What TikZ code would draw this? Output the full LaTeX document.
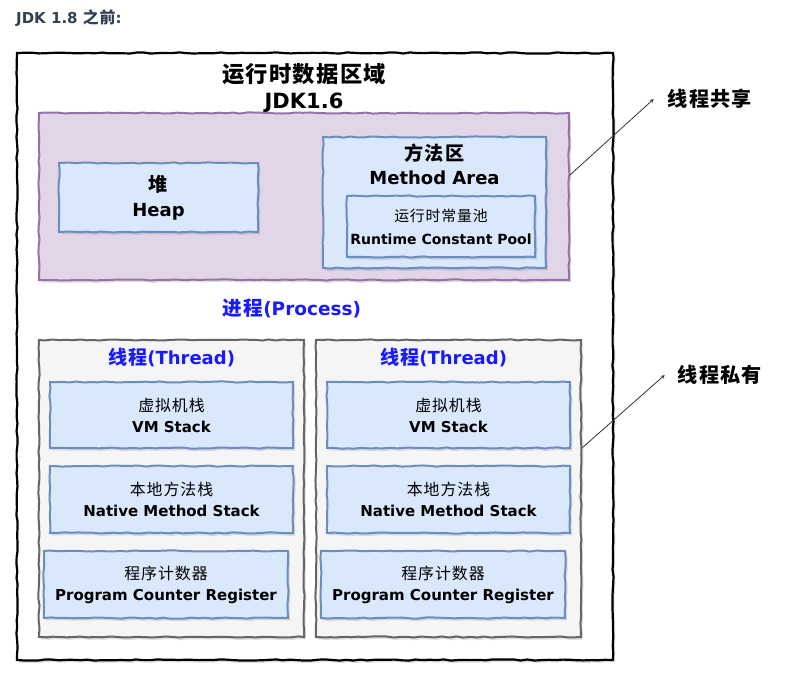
\documentclass[tikz,border=0pt]{standalone}
\usepackage{fontspec}
\setmainfont{DejaVu Sans}
\newfontfamily\cjk{Noto Sans CJK SC}[Scale=1.06, LetterSpace=6]
\usetikzlibrary{positioning,decorations.pathmorphing,shadows,arrows.meta}
\newcommand{\zh}[1]{{\cjk #1}}
\definecolor{sharedfill}{HTML}{E1D5E7}
\definecolor{sharedline}{HTML}{9673A6}
\definecolor{blockfill}{HTML}{DAE8FC}
\definecolor{blockline}{HTML}{6C8EBF}
\definecolor{threadfill}{HTML}{F5F5F5}
\definecolor{threadline}{HTML}{666666}
\definecolor{procblue}{HTML}{1A1AFF}
\definecolor{headgray}{HTML}{333F4F}
\tikzstyle{sketch} = [decorate, decoration={random steps, segment length=7pt, amplitude=0.6pt}]
\tikzstyle{boxshadow} = [drop shadow={shadow xshift=2pt, shadow yshift=-2.5pt, opacity=0.25, fill=black!50}]
\tikzstyle{outerbox} = [sketch, boxshadow, draw=black, line width=2.2pt, fill=white, inner sep=0pt]
\tikzstyle{sharedbox} = [sketch, boxshadow, draw=sharedline, line width=2pt, fill=sharedfill, inner sep=0pt]
\tikzstyle{memblock} = [sketch, boxshadow, draw=blockline, line width=2pt, fill=blockfill, inner sep=0pt, align=center]
\tikzstyle{threadbox} = [sketch, boxshadow, draw=threadline, line width=2pt, fill=threadfill, inner sep=0pt]
\tikzstyle{bigtext} = [align=center, inner sep=0pt, font=\fontsize{18}{25}\selectfont\bfseries]
\tikzstyle{smalltext} = [font=\fontsize{15}{21}\selectfont\bfseries]
\tikzstyle{bluetext} = [inner sep=0pt, text=procblue, font=\fontsize{18}{22}\selectfont\bfseries]
\tikzstyle{sidelabel} = [inner sep=0pt, font=\fontsize{19}{22}\selectfont\bfseries]
\tikzstyle{pointer} = [->, draw=black!80, line width=0.8pt]

\begin{document}
\begin{tikzpicture}[x=1pt, y=-1pt, >=stealth]
    \useasboundingbox (0,0) rectangle (788,677);
    \node [anchor=west, inner sep=0pt, text=headgray, font=\fontsize{15}{17}\selectfont\bfseries] (header) at (16,18) {JDK 1.8 \zh{之前}:};

    % runtime data area
    \node [outerbox, minimum width=596pt, minimum height=607pt] (runtime) at (315,356.5) {};
    \node [bigtext, font=\fontsize{21}{26}\selectfont\bfseries] (title) at (304,88) {\zh{运行时数据区域}\\JDK1.6};

    % shared between threads
    \node [sharedbox, minimum width=530pt, minimum height=167pt] (shared) at (304,196.5) {};
    \node [memblock, bigtext, minimum width=199pt, minimum height=69pt] (heap) at (158.5,197.5) {\zh{堆}\\Heap};
    \node [memblock, minimum width=223pt, minimum height=131pt] (method) at (434.5,202.5) {};
    \node [bigtext, font=\fontsize{18}{24}\selectfont\bfseries] (methodtitle) at ([yshift=-28pt]method.north) {\zh{方法区}\\Method Area};
    \node [memblock, minimum width=188pt, minimum height=61pt, font=\fontsize{14}{23}\selectfont\bfseries] (pool) at (441,226.5) {\zh{\mdseries 运行时常量池}\\Runtime Constant Pool};

    \node [bluetext, font=\fontsize{18.5}{22}\selectfont\bfseries] (process) at (292,308) {\zh{进程}(Process)};

    % per thread
    \node [threadbox, minimum width=265pt, minimum height=297pt] (thread1) at (171.5,488.5) {};
    \node [threadbox, minimum width=265pt, minimum height=297pt, right=10pt of thread1] (thread2) {};
    \node [bluetext] (thread1title) at ([yshift=-18pt]thread1.north) {\zh{线程}(Thread)};
    \node [bluetext, xshift=-5pt] (thread2title) at ([yshift=-18pt]thread2.north) {\zh{线程}(Thread)};

    \node [memblock, smalltext, minimum width=243pt, minimum height=66pt] (vm1) at ([yshift=-76pt]thread1.north) {\zh{\mdseries 虚拟机栈}\\VM Stack};
    \node [memblock, smalltext, minimum width=243pt, minimum height=67pt, below=16pt of vm1] (native1) {\zh{\mdseries 本地方法栈}\\Native Method Stack};
    \node [memblock, smalltext, minimum width=244pt, minimum height=67pt, below=16pt of native1, xshift=-5.5pt] (pc1) {\zh{\mdseries 程序计数器}\\Program Counter Register};

    \node [memblock, smalltext, minimum width=243pt, minimum height=66pt] (vm2) at ([yshift=-76pt]thread2.north) {\zh{\mdseries 虚拟机栈}\\VM Stack};
    \node [memblock, smalltext, minimum width=243pt, minimum height=67pt, below=16pt of vm2] (native2) {\zh{\mdseries 本地方法栈}\\Native Method Stack};
    \node [memblock, smalltext, minimum width=244pt, minimum height=67pt, below=16pt of native2, xshift=-5.5pt] (pc2) {\zh{\mdseries 程序计数器}\\Program Counter Register};

    % side notes
    \node [sidelabel] (sharedlbl) at (710,99) {\zh{线程共享}};
    \node [sidelabel] (privatelbl) at (720,375) {\zh{线程私有}};
    \coordinate (sharedfrom) at ([yshift=21.5pt]shared.east);
    \coordinate (privatefrom) at ([yshift=40.5pt]thread2.east);
    \draw [pointer] (sharedfrom) -- ([xshift=-14pt]sharedlbl.west);
    \draw [pointer] (privatefrom) -- ([xshift=-13pt]privatelbl.west);
\end{tikzpicture}
\end{document}
